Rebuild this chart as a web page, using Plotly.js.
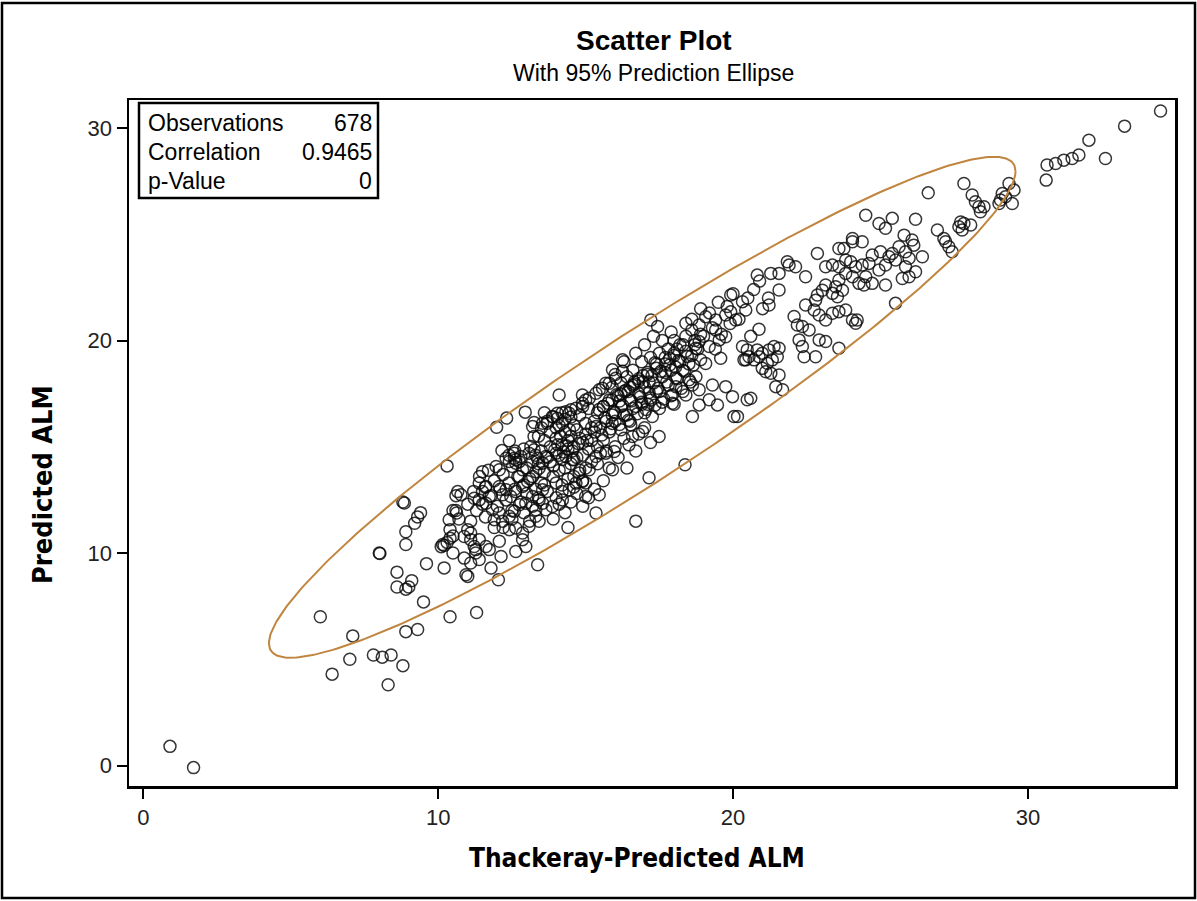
<!DOCTYPE html>
<html>
<head>
<meta charset="utf-8">
<script src="https://cdn.plot.ly/plotly-3.0.1.min.js"></script>
<style>html,body{margin:0;padding:0;background:#fff;}#chart{width:1197px;height:901px;}</style>
</head>
<body>
<div id="chart"></div>
<script>
// ---- Data: [Thackeray-predicted ALM, Predicted ALM] ----
const tailLow = [
[0.9,0.9],[1.7,-0.1],[6.0,7.0],[7.1,6.1],[7.0,5.0],[6.4,4.3],[7.8,5.2],[8.1,5.1],[8.4,5.2],[8.8,4.7],[8.3,3.8],
[8.9,6.3],[9.3,6.4],[9.5,7.7],[10.4,7.0],[11.3,7.2]
];
const leftBand = [
[8.6,9.1],[9.1,8.7],[8.6,8.4],[8.9,8.3],[9.0,8.4],[9.6,9.5],[10.2,9.3],[8.8,12.4],[8.85,12.35],[8.0,10.0],[8.02,9.98],
[9.4,11.9],[9.3,11.7],[9.2,11.4],[8.9,11.0],[8.9,10.4],[10.3,14.1],[10.1,10.3],[10.15,10.4],[10.2,10.35],[10.3,10.5],
[10.4,10.7],[10.5,10.0],[10.6,12.7],[10.6,12.0],[10.5,12.0],[10.7,11.6],[10.4,11.1],[10.5,10.8],[10.66,12.89],[10.77,12.74],
[10.62,11.88],[10.37,11.57],[11.0,11.1],[11.1,10.94],[10.88,10.78],[11.1,10.63],[11.22,10.31],[11.27,10.16],[10.94,8.98],
[11.0,8.9],[12.04,8.74],[13.37,9.45],[11.39,9.69],[11.79,9.29],[12.13,9.84],[12.63,10.07],[10.88,9.76],[11.1,9.53],[11.27,10.0]
];
const lowerBand = [
[11.5,13.83],[11.96,14.07],[12.07,13.92],[12.41,14.31],[12.63,14.23],[12.8,14.54],[12.58,14.7],
[11.39,13.29],[11.62,13.13],[11.5,12.89],[11.73,12.66],[11.62,12.34],[11.39,12.5],[11.22,12.58],
[12.07,13.13],[12.3,12.98],[12.18,12.74],[12.46,12.66],[12.63,12.89],[12.86,13.13],[13.03,13.37],[13.2,13.6],[13.31,13.83],
[13.42,13.99],[13.54,14.23],[13.65,14.54],[11.84,12.04],[12.07,11.88],[11.9,11.57],[12.18,11.49],[12.41,11.73],[12.58,11.96],
[12.75,12.27],[12.97,12.34],[13.2,12.66],[13.42,12.5],[13.54,12.98],[12.41,11.1],[12.63,11.18],[12.86,10.94],[13.08,11.26],
[13.31,11.73],[13.42,11.49],[13.65,12.04],[11.39,10.63],[11.62,10.31],[11.73,10.16],[12.07,10.55],[12.86,10.63],[12.97,10.31],
[11.2,12.9],[11.4,13.6],[11.5,12.3],[11.6,13.1],[11.7,13.9],[11.8,12.7],[11.9,13.4],[12.0,12.2],[12.1,13.0],[12.2,13.7],
[12.3,12.5],[12.4,13.3],[12.5,12.0],[12.6,13.0],[12.7,13.6],[12.8,12.4],[12.9,13.2],[13.0,12.8],[13.1,13.5],[13.2,12.2],
[13.3,13.0],[13.4,12.6],[12.2,11.2],[12.5,11.6],[12.9,11.9],[13.1,11.5],[13.5,13.3],[11.3,12.0],[11.0,12.3],[11.1,11.5],
[11.6,11.7],[11.9,11.2],[12.6,14.8],[12.9,14.9],[13.2,14.3],[13.0,14.0],[12.4,14.6]
];
const upperEdge = [
[14.1,17.44],[12.95,16.63],[12.32,16.35],[11.98,15.92],[12.41,15.28],[12.16,14.82],[12.58,14.46],[12.75,14.3],[13.08,14.7],
[13.25,14.86],[13.37,14.46],[13.2,15.95],[13.25,16.14],[13.54,16.11],[13.7,16.11],[13.87,16.42],[14.04,16.58],[14.33,16.65],
[14.5,16.74],[14.89,17.44],[15.0,17.2],[13.25,15.48],[13.14,15.01],[12.3,14.46],[12.63,14.39],[12.52,14.07],[12.86,13.92],
[12.75,13.6],[14.04,16.34],[14.21,16.11],[14.44,16.58],[14.67,16.81],[14.89,17.05],[15.12,17.28],[15.35,17.52],[15.57,17.75],
[15.8,17.99],[16.02,18.22]
];
const belowCore = [
[15.91,13.92],[15.46,12.74],[15.35,11.88],[15.0,12.66],[14.67,13.29],[14.44,12.98],[14.21,12.5],[13.87,12.19],[13.54,12.34],
[13.31,12.04],[13.7,12.9],[14.0,12.6],[14.2,12.9],[14.5,12.4],[14.7,12.8],[14.9,12.2],[15.1,12.6],[15.3,13.0],[14.3,11.9],
[13.9,11.6],[14.4,11.2],[14.1,12.3],[14.6,13.1],[15.0,13.3],[15.6,13.4],[15.8,14.0],[16.1,14.5],[16.0,15.0],[16.3,15.4],
[16.4,14.0],[16.7,14.8],[16.8,15.6],[16.2,15.8],[17.0,15.9],[17.2,15.2],[16.7,11.5],[17.15,13.54],[18.37,14.15]
];
const core = [
[13.4,14.2],[13.5,14.8],[13.6,15.3],[13.6,13.8],[13.7,14.5],[13.8,15.0],[13.8,15.7],[13.9,14.1],[13.9,13.6],[14.0,14.7],
[14.0,15.4],[14.1,16.0],[14.1,13.9],[14.2,14.4],[14.2,15.1],[14.3,15.7],[14.3,16.3],[14.4,13.5],[14.4,14.9],[14.5,15.5],
[14.5,14.2],[14.6,16.0],[14.6,15.0],[14.7,14.5],[14.7,15.8],[14.8,16.5],[14.8,13.9],[14.9,15.2],[14.9,14.6],[15.0,16.1],
[15.0,15.6],[15.1,14.9],[15.1,16.8],[15.2,15.3],[15.2,14.3],[15.3,16.2],[15.3,15.7],[15.4,15.0],[15.4,16.6],[15.5,14.7],
[15.5,15.9],[13.5,15.9],[13.7,16.2],[13.9,16.4],[14.0,13.3],[14.2,13.2],[13.6,13.2],[13.8,14.3],[14.1,14.6],[14.3,14.0],
[14.4,15.3],[14.6,14.4],[14.8,15.4],[15.0,14.0],[15.2,15.9],[14.0,15.9],[14.2,16.6],[14.5,16.4],[14.9,16.9],[15.4,14.2],
[13.3,14.6],[13.4,15.5],[14.6,13.6],[14.9,13.4],[15.6,15.3],[15.7,16.2],[15.6,16.9],[15.8,15.7],[15.9,16.5],[15.7,14.8],
[13.6,16.6],[14.35,15.05],[14.05,15.1],[14.25,14.75],[14.55,14.8],[14.45,15.8],[13.95,14.85],[14.75,15.15],[15.05,15.3],[14.15,15.5],
[14.78,13.76],[14.55,14.39],[14.33,14.54],[15.12,13.92],[14.89,13.37],[15.35,14.54],[15.68,14.7],[15.97,14.78]
];
const denseCore = [
[15.35,15.95],[15.45,16.75],[15.55,15.55],[15.65,16.35],[15.75,17.05],[15.85,15.85],[15.95,16.65],[16.05,17.45],[16.15,16.05],[16.25,16.95],
[16.35,17.65],[16.45,16.25],[16.55,17.15],[16.65,17.95],[16.75,16.55],[16.85,17.35],[16.95,18.05],[17.05,16.75],[17.15,17.55],[17.25,18.35],
[17.35,16.95],[17.45,17.75],[17.55,18.55],[17.65,17.25],[17.75,18.05],[17.85,18.85],[17.95,17.45],[18.05,18.25],[18.15,19.05],[18.25,17.75],
[18.35,18.55],[18.45,19.25],[18.55,18.05],[18.65,18.85],[16.0,16.2],[16.3,16.5],[16.6,16.8],[16.9,17.0],[17.2,17.2],[17.5,17.6],
[15.6,16.9],[15.9,17.2],[16.2,17.5],[16.5,17.8],[16.8,18.1],[17.1,18.4],[17.4,18.9],[17.7,19.2],[18.0,19.4],[18.3,19.8]
];
const midBand = [
[15.8,17.2],[15.9,17.8],[16.0,16.6],[16.1,17.4],[16.2,18.0],[16.2,16.9],[16.3,17.6],[16.4,18.3],[16.4,16.5],[16.5,17.2],
[16.6,17.9],[16.6,18.6],[16.7,16.9],[16.8,17.5],[16.8,18.2],[16.9,19.0],[17.0,17.8],[17.0,16.6],[17.1,18.5],[17.2,17.3],
[17.2,19.2],[17.3,18.0],[17.4,18.7],[17.4,17.6],[17.5,19.4],[17.6,18.3],[17.6,17.1],[17.7,18.9],[17.8,19.6],[17.8,17.9],
[17.9,18.6],[18.0,19.3],[18.0,20.0],[18.1,18.2],[18.2,19.0],[18.2,19.8],[18.3,18.6],[18.4,19.5],[18.4,20.2],[18.5,18.9],
[16.0,18.4],[16.3,19.0],[16.7,19.4],[17.0,19.8],[17.3,20.2],[17.6,20.0],[17.9,20.4],[17.5,16.8],[17.9,17.4],[18.3,17.6],
[16.5,16.2],[15.9,16.1],[16.9,17.1],[17.1,17.0],[17.7,18.5],[18.1,19.6],[16.15,17.15],[16.45,17.6],[16.95,18.35],[17.35,18.95],
[17.85,19.15],[18.05,18.75],[18.6,19.3],[18.7,20.0],[18.8,19.6],[18.6,20.5],[18.9,20.3],[17.15,18.05],[16.65,18.05],[16.25,18.55],
[16.25,19.09],[15.91,18.62],[15.68,17.99],[15.46,17.68],[17.49,15.48],[16.47,15.09],[16.59,15.48],[16.93,15.72],[16.53,16.03],
[17.94,17.05],[17.26,16.42],[18.62,16.42],[18.0,17.0]
];
const upperBand = [
[17.21,20.97],[17.44,20.66],[19.92,22.14],[20.32,21.83],[20.43,21.44],[18.4,20.81],[18.85,20.73],[19.07,21.12],[19.41,20.97],
[19.75,21.2],[19.92,21.35],[20.09,20.97],[19.41,20.5],[19.75,20.18],[19.53,20.03],[18.85,19.95],[19.19,19.72],[18.74,19.64],
[20.32,19.72],[20.48,19.56],[20.43,19.09],[19.58,19.17],[19.07,18.92],[18.74,18.3],[18.51,18.15],[18.85,17.68],[18.4,17.44],
[18.06,17.83],[19.3,17.91],[19.19,17.21],[18.85,16.97],[19.47,16.97],[19.98,17.36],[20.03,16.42],[20.48,17.21],[18.62,17.91],
[19.75,17.83],[18.6,21.0],[18.9,21.5],[19.2,21.3],[19.5,21.8],[19.8,21.6],[20.0,22.2],[19.0,20.2],[19.3,20.6],[19.6,20.3],
[19.9,20.8],[20.2,21.0],[20.5,22.0],[20.7,22.4],[18.7,19.8],[18.9,19.1],[19.4,19.6],[20.6,20.2],[21.0,21.5],[20.9,22.8],[21.2,22.0],
[20.88,20.53],[20.6,17.28],[20.15,16.42]
];
const rightBand = [
[22.86,24.1],[23.76,24.33],[24.05,24.65],[24.38,24.65],[24.72,24.02],[25.0,24.18],[25.29,23.94],[25.4,24.1],[25.51,23.79],
[25.17,23.55],[24.95,23.32],[24.61,23.63],[24.38,23.55],[24.16,23.47],[23.99,23.71],[23.82,23.79],[23.59,23.47],[23.37,23.55],
[23.14,23.47],[24.5,23.0],[24.72,22.69],[24.27,22.69],[24.05,23.0],[23.82,23.16],[23.59,22.85],[23.48,22.53],[23.71,22.37],
[23.37,22.22],[23.54,22.06],[23.14,22.61],[23.03,22.37],[22.86,22.14],[22.8,21.9],[22.75,21.44],[22.92,21.2],[23.14,20.97],
[23.37,21.28],[23.59,21.36],[23.82,21.44],[24.05,20.97],[24.16,20.81],[24.21,20.97],[23.59,19.64],[25.51,21.75],
[22.92,20.03],[23.14,19.95],[22.8,19.24],[22.41,19.24],[22.35,19.72],[22.24,20.03],[22.18,20.73],[22.35,20.66],[22.58,20.5],
[22.46,21.67],[22.07,21.13],[21.56,22.38],[21.84,23.71],[21.9,23.55],[21.56,23.16],[21.28,23.16],[20.82,23.08],[21.22,21.67],
[22.12,23.47],[22.46,23.0],[20.54,19.24],[20.37,19.09],[20.82,19.56],[20.99,19.4],[21.22,19.56],[21.39,19.72],[21.56,19.64],
[21.5,19.24],[21.33,19.09],[21.16,18.93],[20.99,18.69],[21.11,18.53],[21.28,18.46],[21.56,18.38],[21.45,17.83],[21.68,17.68],
[20.88,19.24],[20.71,19.09]
];
const topBand = [
[27.83,27.39],[26.62,26.95],[28.11,26.85],[28.22,26.53],[28.34,26.3],[28.51,26.3],[28.39,26.06],[29.36,27.39],[29.53,27.08],
[29.13,26.92],[29.07,26.61],[29.02,26.45],[29.47,26.45],[29.24,26.77],[24.5,25.9],[24.95,25.51],[25.17,25.28],[25.4,25.75],
[26.19,25.71],[26.93,25.2],[27.15,24.8],[27.21,24.65],[27.32,24.41],[27.43,24.18],[27.72,25.58],[27.66,25.35],[27.83,25.51],
[28.06,25.44],[27.77,25.2],[24.05,24.8],[23.59,24.33],[25.63,24.41],[25.85,24.18],[26.07,24.73],[26.13,24.49],[25.97,23.87],
[26.42,23.94],[25.8,24.96],[25.85,23.47],[26.19,23.24],[25.97,23.0],[25.74,22.92],[25.17,22.61],[24.44,22.61]
];
const tailHigh = [
[34.5,30.8],[33.28,30.09],[32.07,29.43],[32.63,28.57],[30.65,28.26],[30.94,28.33],[31.22,28.49],[31.5,28.57],[31.73,28.73],[30.62,27.55]
];

const statLabels = ['Observations', 'Correlation', 'p-Value'];
const statValues = ['678', '0.9465', '0'];
const xTicks = [0, 10, 20, 30];
const yTicks = [0, 10, 20, 30];

// ---- Build ----
const allPts = [].concat(tailLow, leftBand, lowerBand, upperEdge, belowCore, core, denseCore, midBand, upperBand, rightBand, topBand, tailHigh);
const xs = allPts.map(p => p[0]);
const ys = allPts.map(p => p[1]);

// 95% prediction ellipse from sample mean & covariance
const n = xs.length;
const mx = xs.reduce((a, b) => a + b, 0) / n;
const my = ys.reduce((a, b) => a + b, 0) / n;
let sxx = 0, syy = 0, sxy = 0;
for (let i = 0; i < n; i++) {
  const dx = xs[i] - mx, dy = ys[i] - my;
  sxx += dx * dx; syy += dy * dy; sxy += dx * dy;
}
sxx /= (n - 1); syy /= (n - 1); sxy /= (n - 1);
const F95 = 3.0106;
const c = Math.sqrt(2 * (n - 1) * (n + 1) / (n * (n - 2)) * F95);
const l11 = Math.sqrt(sxx), l21 = sxy / l11, l22 = Math.sqrt(syy - l21 * l21);
const ex = [], ey = [];
for (let k = 0; k <= 360; k++) {
  const t = k * Math.PI / 180;
  ex.push(mx + c * l11 * Math.cos(t));
  ey.push(my + c * (l21 * Math.cos(t) + l22 * Math.sin(t)));
}

const FONT = 'Liberation Sans, Arial, sans-serif';
const BOLDC = 'Liberation Sans Narrow, DejaVu Sans Condensed, Arial Narrow, sans-serif';

const traces = [
  {
    x: xs, y: ys, type: 'scatter', mode: 'markers', name: 'Observations',
    marker: { symbol: 'circle-open', size: 12, color: 'rgba(10,10,10,0.82)', line: { width: 1.5 } },
    hoverinfo: 'x+y'
  },
  {
    x: ex, y: ey, type: 'scatter', mode: 'lines', name: '95% Prediction Ellipse',
    line: { color: '#C0853F', width: 2 }, hoverinfo: 'skip'
  }
];

const L = 129, R = 1175, T = 100, B = 786, W = 1197, H = 901;
const PW = R - L, PH = B - T;
const px = v => (v - L) / PW;
const py = v => (B - v) / PH;

const annotations = [
  { text: '<b>Scatter Plot</b>', xref: 'paper', yref: 'paper', x: px(654), y: py(41), showarrow: false,
    xanchor: 'center', yanchor: 'middle', font: { family: FONT, size: 28, color: '#000' } },
  { text: 'With 95% Prediction Ellipse', xref: 'paper', yref: 'paper', x: px(653), y: py(73), showarrow: false,
    xanchor: 'center', yanchor: 'middle', font: { family: FONT, size: 23, color: '#000' } },
  { text: '<b>Thackeray-Predicted ALM</b>', xref: 'paper', yref: 'paper', x: px(637), y: py(858), showarrow: false,
    xanchor: 'center', yanchor: 'middle', font: { family: BOLDC, size: 26, color: '#000' } },
  { text: '<b>Predicted ALM</b>', xref: 'paper', yref: 'paper', x: px(42), y: py(485), showarrow: false, textangle: -90,
    xanchor: 'center', yanchor: 'middle', font: { family: BOLDC, size: 27, color: '#000' } }
];
const rowY = [123, 152, 181];
statLabels.forEach((lab, i) => {
  annotations.push({ text: lab, xref: 'paper', yref: 'paper', x: px(146), y: py(rowY[i]), showarrow: false,
    xanchor: 'left', yanchor: 'middle', font: { family: FONT, size: 23, color: '#000' } });
  annotations.push({ text: statValues[i], xref: 'paper', yref: 'paper', x: px(374), y: py(rowY[i]), showarrow: false,
    xanchor: 'right', yanchor: 'middle', font: { family: FONT, size: 23, color: '#000' } });
});

const layout = {
  width: W, height: H,
  margin: { l: L, r: W - R, t: T, b: H - B, pad: 0 },
  paper_bgcolor: '#fff', plot_bgcolor: '#fff',
  showlegend: false,
  font: { family: FONT, color: '#222' },
  xaxis: {
    range: [-0.49, 34.99], tickvals: xTicks, ticktext: xTicks.map(String),
    showgrid: false, zeroline: false, showline: true, mirror: true, linecolor: '#000', linewidth: 2.5,
    ticks: 'outside', ticklen: 10, tickwidth: 2, tickcolor: '#000',
    tickfont: { family: FONT, size: 22, color: '#222' }
  },
  yaxis: {
    range: [-0.965, 31.32], tickvals: yTicks, ticktext: yTicks.map(String),
    showgrid: false, zeroline: false, showline: true, mirror: true, linecolor: '#000', linewidth: 2.5,
    ticks: 'outside', ticklen: 10, tickwidth: 2, tickcolor: '#000',
    tickfont: { family: FONT, size: 22, color: '#222' }
  },
  shapes: [
    { type: 'rect', xref: 'paper', yref: 'paper', x0: px(2), x1: px(1195), y0: py(898), y1: py(3),
      line: { color: '#000', width: 2.5 }, fillcolor: 'rgba(0,0,0,0)', layer: 'below' },
    { type: 'rect', xref: 'paper', yref: 'paper', x0: px(139), x1: px(378), y0: py(198), y1: py(103),
      line: { color: '#000', width: 2.5 }, fillcolor: '#fff', layer: 'above' }
  ],
  annotations: annotations
};

Plotly.newPlot('chart', traces, layout, { displayModeBar: false, staticPlot: true });
</script>
</body>
</html>
